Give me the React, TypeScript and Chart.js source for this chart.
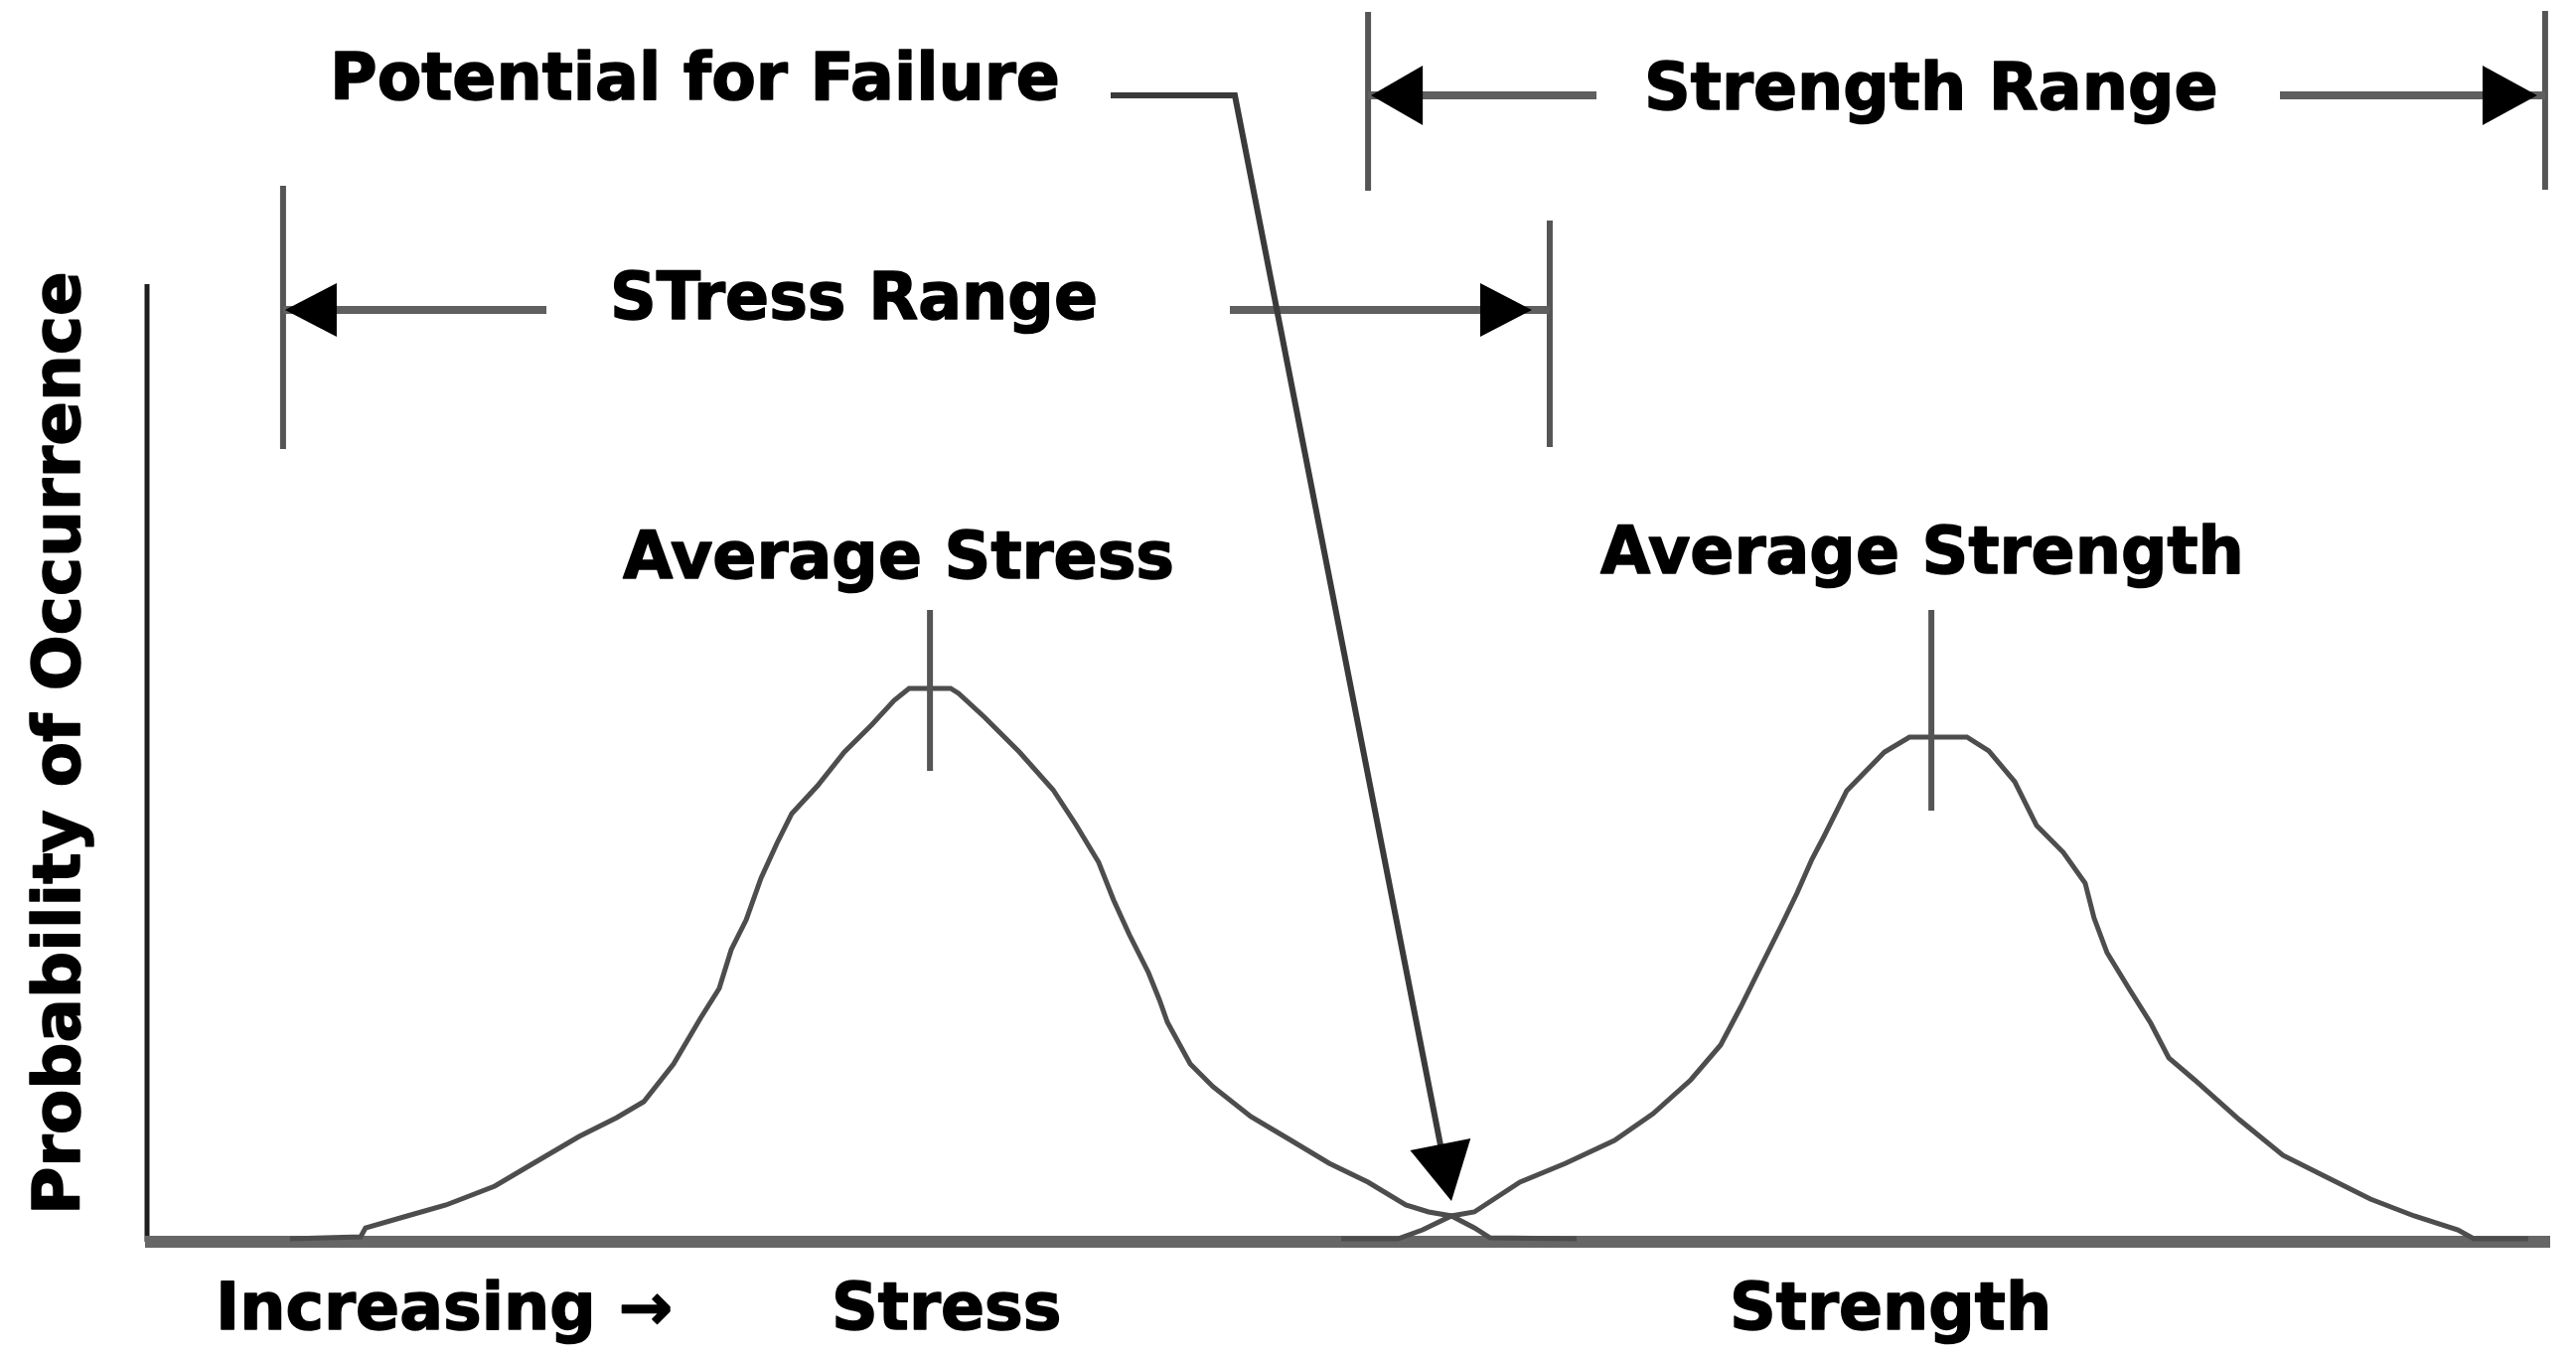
import React, { useEffect, useRef } from "react";
import { Chart, registerables } from "chart.js";

Chart.register(...registerables);

// ---- data (x: increasing stress/strength, 0..100; y: probability, 0..100) ----
const stressX = [5.95, 8.89, 9.09, 10.83, 12.44, 14.47, 16.08, 17.98, 19.55, 20.67, 21.91, 23.03, 23.81, 24.31, 24.93, 25.55, 26.21, 26.83, 27.9, 29.02, 30.14, 31.09, 31.71, 33.44, 33.77, 34.85, 36.3, 37.7, 38.65, 39.6, 40.22, 40.88, 41.67, 42.12, 42.46, 43.41, 44.36, 45.93, 47.54, 49.19, 50.81, 52.38, 53.33, 54.28, 55.23, 55.89, 59.49];
const stressY = [0.3, 0.5, 1.4, 2.6, 3.7, 5.6, 7.9, 10.6, 12.5, 14.1, 17.9, 22.5, 25.5, 29.4, 32.4, 36.6, 40.1, 43.1, 45.9, 49.3, 52.0, 54.5, 55.7, 55.7, 55.2, 52.8, 49.3, 45.5, 42.0, 38.2, 34.4, 30.9, 27.1, 24.4, 22.1, 17.9, 15.6, 12.6, 10.3, 7.9, 6.0, 3.7, 3.0, 2.6, 1.4, 0.4, 0.3];

const strengthX = [49.69, 52.05, 53.08, 54.28, 55.23, 57.13, 59.03, 61.06, 62.67, 64.24, 65.48, 66.31, 67.09, 68.04, 68.66, 69.28, 69.78, 70.73, 72.3, 73.34, 75.73, 76.64, 77.72, 78.63, 79.74, 80.65, 81.02, 81.56, 82.47, 83.38, 84.13, 85.2, 87.06, 88.88, 90.7, 92.52, 94.34, 96.16, 96.82, 99.09];
const strengthY = [0.3, 0.3, 1.2, 2.6, 3.0, 6.0, 7.9, 10.2, 12.9, 16.3, 19.8, 23.6, 27.4, 32.0, 35.1, 38.5, 40.8, 45.4, 49.3, 50.8, 50.8, 49.4, 46.3, 41.9, 39.2, 36.1, 32.6, 29.1, 25.5, 22.0, 18.5, 16.3, 12.3, 8.7, 6.5, 4.3, 2.6, 1.2, 0.3, 0.3];

const stressMean = 32.58;
const strengthMean = 74.25;
const stressRange = [5.66, 58.37];
const strengthRange = [50.81, 99.79];
const failurePoint = [54.28, 4.1];
const axisTop = 96.4;

const yAxisTitle = "Probability of Occurrence";
const xAxisLabels = ["Increasing \u2192", "Stress", "Strength"];
const noteLabels = ["Potential for Failure", "STress Range", "Strength Range", "Average Stress", "Average Strength"];

const FONT = '"DejaVu Sans", "Liberation Sans", sans-serif';

function arrowHead(ctx: CanvasRenderingContext2D, tx: number, ty: number, dx: number, dy: number, len: number, half: number) {
  const n = Math.hypot(dx, dy);
  const ux = dx / n, uy = dy / n;
  const bx = tx - ux * len, by = ty - uy * len;
  ctx.beginPath();
  ctx.moveTo(tx, ty);
  ctx.lineTo(bx - uy * half, by + ux * half);
  ctx.lineTo(bx + uy * half, by - ux * half);
  ctx.closePath();
  ctx.fill();
}

function line(ctx: CanvasRenderingContext2D, x1: number, y1: number, x2: number, y2: number) {
  ctx.beginPath();
  ctx.moveTo(x1, y1);
  ctx.lineTo(x2, y2);
  ctx.stroke();
}

function boldText(ctx: CanvasRenderingContext2D, text: string, px: number, py: number) {
  ctx.fillText(text, px, py);
  ctx.strokeText(text, px, py);
}

const annotationPlugin = {
  id: "stressStrengthAnnotations",
  beforeDatasetsDraw(chart: any) {
    const { ctx, scales } = chart;
    const x = scales.x, y = scales.y;
    const x0 = x.getPixelForValue(0);
    const y0 = y.getPixelForValue(0);
    ctx.save();
    ctx.lineCap = "butt";
    ctx.strokeStyle = "#1e1e1e";
    ctx.lineWidth = 5;
    line(ctx, x0, y.getPixelForValue(axisTop), x0, y0);
    ctx.strokeStyle = "#666666";
    ctx.lineWidth = 12;
    line(ctx, x0 - 2, y0, x.getPixelForValue(100), y0);
    ctx.restore();
  },
  afterDatasetsDraw(chart: any) {
    const { ctx, scales } = chart;
    const x = scales.x, y = scales.y;
    ctx.save();

    // mean markers
    ctx.strokeStyle = "#555555";
    ctx.lineWidth = 6;
    const sm = x.getPixelForValue(stressMean);
    line(ctx, sm, y.getPixelForValue(63.6), sm, y.getPixelForValue(47.4));
    const gm = x.getPixelForValue(strengthMean);
    line(ctx, gm, y.getPixelForValue(63.6), gm, y.getPixelForValue(43.4));

    // stress range
    const sL = x.getPixelForValue(stressRange[0]);
    const sR = x.getPixelForValue(stressRange[1]);
    ctx.strokeStyle = "#555555";
    ctx.lineWidth = 6;
    line(ctx, sL, 187, sL, 452);
    line(ctx, sR, 222, sR, 450);
    ctx.lineWidth = 8;
    ctx.strokeStyle = "#5f5f5f";
    line(ctx, sL, 312, 550, 312);
    line(ctx, 1238, 312, sR, 312);
    ctx.fillStyle = "#000";
    arrowHead(ctx, sL + 2, 312, -1, 0, 52, 27);
    arrowHead(ctx, sR - 18, 312, 1, 0, 52, 27);

    // strength range
    const gL = x.getPixelForValue(strengthRange[0]);
    const gR = x.getPixelForValue(strengthRange[1]);
    ctx.strokeStyle = "#555555";
    ctx.lineWidth = 6;
    line(ctx, gL, 12, gL, 192);
    line(ctx, gR, 11, gR, 191);
    ctx.lineWidth = 8;
    ctx.strokeStyle = "#5f5f5f";
    line(ctx, gL, 96, 1607, 96);
    line(ctx, 2295, 96, gR, 96);
    ctx.fillStyle = "#000";
    arrowHead(ctx, gL + 3, 96, -1, 0, 52, 30);
    arrowHead(ctx, gR - 8, 96, 1, 0, 55, 30);

    // potential for failure leader
    const fx = x.getPixelForValue(failurePoint[0]);
    const fy = y.getPixelForValue(failurePoint[1]);
    ctx.strokeStyle = "#3a3a3a";
    ctx.lineWidth = 6;
    ctx.lineJoin = "miter";
    ctx.beginPath();
    ctx.moveTo(1118, 96);
    ctx.lineTo(1243, 96);
    ctx.lineTo(fx - (fx - 1243) * 0.05, fy - (fy - 96) * 0.05);
    ctx.stroke();
    ctx.fillStyle = "#000";
    arrowHead(ctx, fx, fy, fx - 1243, fy - 96, 58, 31);

    // texts
    ctx.fillStyle = "#000";
    ctx.strokeStyle = "#000";
    ctx.lineWidth = 1.5;
    ctx.lineJoin = "round";
    ctx.textAlign = "left";
    ctx.textBaseline = "alphabetic";
    ctx.font = `bold 65px ${FONT}`;
    boldText(ctx, noteLabels[0], 332, 100);
    boldText(ctx, noteLabels[1], 614, 321);
    boldText(ctx, noteLabels[2], 1655, 110);
    boldText(ctx, noteLabels[3], 627, 582);
    boldText(ctx, noteLabels[4], 1611, 577);

    boldText(ctx, xAxisLabels[0], 217, 1338);
    boldText(ctx, xAxisLabels[1], 837, 1338);
    boldText(ctx, xAxisLabels[2], 1741, 1338);

    ctx.save();
    ctx.font = `bold 66px ${FONT}`;
    ctx.translate(80, 1223);
    ctx.rotate(-Math.PI / 2);
    boldText(ctx, yAxisTitle, 0, 0);
    ctx.restore();

    ctx.restore();
  },
};

export default function App() {
  const canvasRef = useRef<HTMLCanvasElement | null>(null);

  useEffect(() => {
    const canvas = canvasRef.current;
    if (!canvas) return;
    const chart = new Chart(canvas, {
      type: "line",
      data: {
        datasets: [
          {
            label: "Stress",
            data: stressX.map((v, i) => ({ x: v, y: stressY[i] })),
            borderColor: "#4d4d4d",
            borderWidth: 5,
            pointRadius: 0,
            tension: 0,
            fill: false,
          },
          {
            label: "Strength",
            data: strengthX.map((v, i) => ({ x: v, y: strengthY[i] })),
            borderColor: "#4d4d4d",
            borderWidth: 5,
            pointRadius: 0,
            tension: 0,
            fill: false,
          },
        ],
      },
      options: {
        responsive: false,
        devicePixelRatio: 1,
        animation: false,
        layout: { padding: { left: 148, right: 26, top: 250, bottom: 116 } },
        plugins: { legend: { display: false }, tooltip: { enabled: false } },
        scales: {
          x: { type: "linear", min: 0, max: 100, display: false },
          y: { type: "linear", min: 0, max: 100, display: false },
        },
      },
      plugins: [annotationPlugin],
    });
    return () => chart.destroy();
  }, []);

  return (
    <canvas
      ref={canvasRef}
      width={2593}
      height={1366}
      style={{ position: "fixed", left: 0, top: 0, display: "block", background: "#fff" }}
    />
  );
}
